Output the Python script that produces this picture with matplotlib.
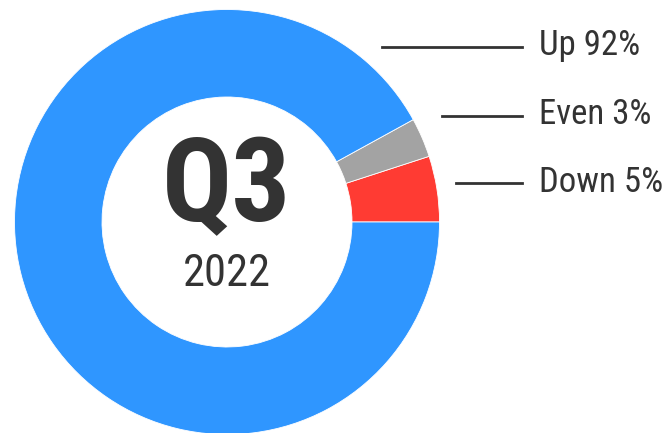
import matplotlib
matplotlib.use("Agg")
import matplotlib.pyplot as plt
from matplotlib.lines import Line2D

# datos del grafico (orden: desde las 3 en punto, sentido antihorario)
categorias = ["Down", "Even", "Up"]
valores = [5, 3, 92]
colores = ["#FF3B33", "#A3A3A3", "#2F96FF"]
titulo = "Q3"
anio = "2022"

plt.rcParams["font.family"] = ["Roboto Condensed", "DejaVu Sans"]
texto = "#333333"

W, H = 671, 433
fig = plt.figure(figsize=(W / 100, H / 100), dpi=100)

# donut: centro (227, 222) px, radio 212.5 px
cx, cy, r = 227, 222, 212.5
ax = fig.add_axes([(cx - r) / W, (H - cy - r) / H, 2 * r / W, 2 * r / H])
ax.pie(valores, colors=colores, startangle=0, counterclock=True, radius=1,
       wedgeprops=dict(width=1 - 125 / 212.5, edgecolor="white", linewidth=0.6))
ax.set_xlim(-1, 1)
ax.set_ylim(-1, 1)
ax.set_aspect("equal")
ax.axis("off")

ax.text(0, (cy - 189) / r, titulo, ha="center", va="center", fontsize=84,
        fontweight="bold", color=texto)
ax.text(0, (cy - 274) / r, anio, ha="center", va="center", fontsize=32,
        color=texto)

# etiquetas con lineas guia
y_etq = {"Up": 47, "Even": 116, "Down": 183}
x_ini = {"Up": 382, "Even": 442, "Down": 456}
for cat, val in zip(categorias, valores):
    y = y_etq[cat]
    fig.add_artist(Line2D([x_ini[cat] / W, 522 / W], [1 - y / H, 1 - y / H],
                          color=texto, linewidth=2))
    fig.text(539 / W, 1 - (y - 1) / H, f"{cat} {val}%", ha="left", va="center",
             fontsize=25, color=texto)

fig.savefig("out.png", dpi=100)
